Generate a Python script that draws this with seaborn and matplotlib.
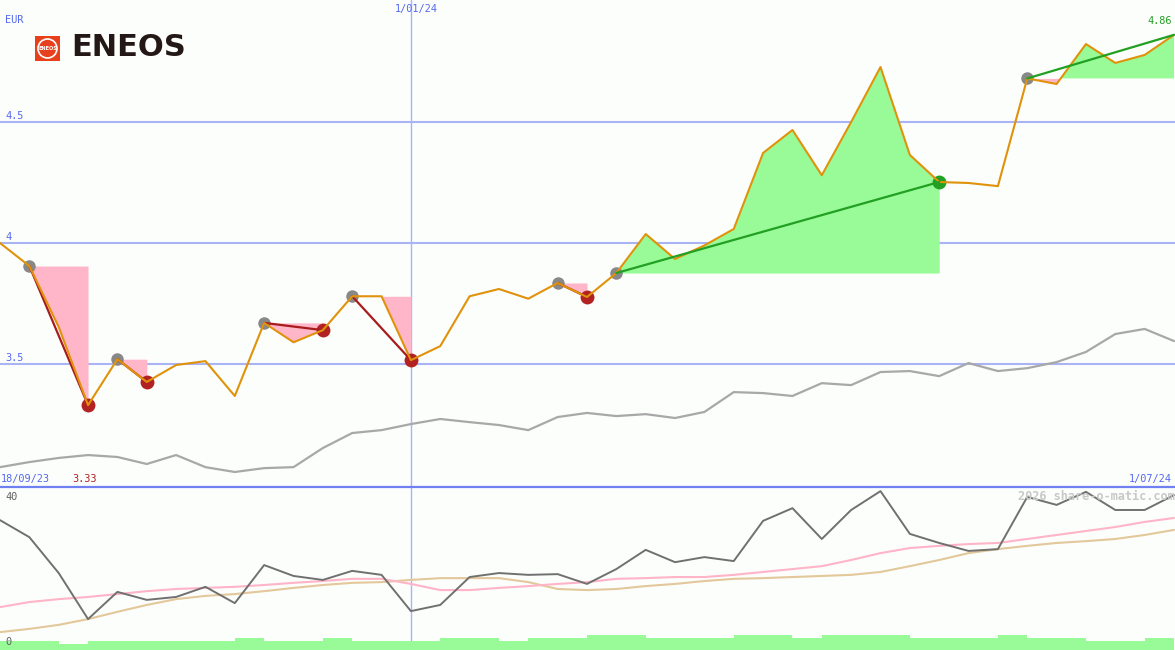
import numpy as np
import seaborn as sns
import matplotlib.pyplot as plt
from matplotlib.patches import Rectangle

# weekly closes, EUR
price = [4.00, 3.905, 3.653, 3.33, 3.52, 3.426, 3.496, 3.512, 3.368, 3.67,
         3.59, 3.64, 3.78, 3.78, 3.516, 3.574, 3.78, 3.81, 3.77, 3.835,
         3.777, 3.876, 4.037, 3.934, 3.99, 4.058, 4.372, 4.467, 4.28, 4.50,
         4.727, 4.364, 4.252, 4.248, 4.235, 4.68, 4.657, 4.822, 4.744, 4.777, 4.86]
# comparison line (grey)
ref_line = [3.074, 3.095, 3.112, 3.124, 3.116, 3.087, 3.124, 3.074, 3.054, 3.070,
            3.074, 3.153, 3.215, 3.227, 3.252, 3.273, 3.260, 3.248, 3.227, 3.281,
            3.298, 3.285, 3.293, 3.277, 3.302, 3.384, 3.380, 3.368, 3.421, 3.413,
            3.467, 3.471, 3.450, 3.504, 3.471, 3.483, 3.508, 3.550, 3.624, 3.645, 3.595]
# lower panel indicator and its two averages
osc = [35.0, 30.3, 20.4, 7.7, 15.2, 13.0, 13.8, 16.6, 12.1, 22.6,
       19.6, 18.5, 21.0, 19.9, 9.9, 11.6, 19.3, 20.4, 19.9, 20.1,
       17.4, 21.5, 26.8, 23.4, 24.8, 23.7, 34.8, 38.3, 29.8, 37.8,
       43.0, 31.2, 28.7, 26.5, 27.0, 41.4, 39.2, 42.8, 37.8, 37.8, 41.9]
osc_fast = [11.0, 12.4, 13.2, 13.8, 14.6, 15.4, 16.0, 16.3, 16.6, 17.1,
            17.7, 18.2, 18.8, 18.8, 17.4, 15.7, 15.7, 16.3, 16.8, 17.4,
            17.9, 18.8, 19.0, 19.3, 19.3, 19.9, 20.7, 21.5, 22.3, 24.0,
            25.9, 27.3, 27.9, 28.4, 28.7, 29.8, 30.9, 32.0, 33.1, 34.5, 35.6]
osc_slow = [4.1, 5.0, 6.1, 7.7, 9.7, 11.6, 13.2, 14.1, 14.6, 15.4,
            16.3, 17.1, 17.7, 17.9, 18.5, 19.0, 19.0, 19.0, 17.9, 16.0,
            15.7, 16.0, 16.8, 17.4, 18.2, 18.8, 19.0, 19.3, 19.6, 19.9,
            20.7, 22.3, 24.0, 25.9, 27.0, 27.9, 28.7, 29.2, 29.8, 30.9, 32.3]
volume = [3, 3, 2, 3, 3, 3, 3, 3, 4, 3,
          3, 4, 3, 3, 3, 4, 4, 3, 4, 4,
          5, 5, 4, 4, 4, 5, 5, 4, 5, 5,
          5, 4, 4, 4, 5, 4, 4, 3, 3, 4]
# signals: start week -> end week
sig_start = [1, 4, 9, 12, 19, 21, 35]
sig_end = [3, 5, 11, 14, 20, 32, 40]

date_first, date_mid, date_last = "18/09/23", "1/01/24", "1/07/24"
mid_week = 14

weeks = np.arange(len(price))
price = np.array(price)

BG = "#fcfefc"
GRID = "#a8b4f4"
BLUE = "#5468f0"
ORANGE = "#e0920a"
PINK = "#ffb6c8"
LGREEN = "#98fb98"
DGREEN = "#22a022"
DRED = "#a81c1c"

sns.set_style("white")
plt.rcParams['font.family'] = ['DejaVu Sans Mono', 'DejaVu Sans']

W, H = 1175, 650
fig = plt.figure(figsize=(W / 100, H / 100), dpi=100, facecolor=BG)
ax = fig.add_axes([0, 163 / H, 1, 487 / H])
axb = fig.add_axes([0, 0, 1, 163 / H])
axv = axb.twinx()
for a in (ax, axb, axv):
    a.set_axis_off()
    a.set_xlim(0, 40.034)
ax.set_ylim(2.992, 5.004)
axb.set_ylim(-0.83, 44.14)
axv.set_ylim(0, 54.3)


def px(x, y):
    return x / W, 1 - y / H


# grid
for g in (3.5, 4.0, 4.5):
    ax.axhline(g, color=GRID, lw=1.5, zorder=0)
ax.axvline(mid_week, color=GRID, lw=1.0, zorder=0)
axb.axvline(mid_week, color=GRID, lw=1.0, zorder=0)

# signal fills and trend lines
for s, e in zip(sig_start, sig_end):
    xs = weeks[s:e + 1]
    ys = price[s:e + 1]
    base = price[s]
    ax.fill_between(xs, ys, base, where=ys <= base, interpolate=True,
                    color=PINK, lw=0, zorder=1)
    ax.fill_between(xs, ys, base, where=ys >= base, interpolate=True,
                    color=LGREEN, lw=0, zorder=1)

sns.lineplot(x=weeks, y=ref_line, ax=ax, color="#a8a8a8", lw=1.6, zorder=2)

for s, e in zip(sig_start, sig_end):
    win = price[e] > price[s]
    ax.plot([s, e], [price[s], price[e]], color=DGREEN if win else DRED,
            lw=1.6, zorder=5 if win else 3.5)
    ax.plot(s, price[s], "o", color="#888888", ms=9, mec="none", zorder=3)
    if e < len(price) - 1:
        ax.plot(e, price[e], "o", color=DGREEN if win else "#b22222",
                ms=10, mec="none", zorder=3)

sns.lineplot(x=weeks, y=price, ax=ax, color=ORANGE, lw=1.5, zorder=4)

# lower panel
axv.bar(weeks[:-1], volume, width=1.0, align="edge", color=LGREEN, lw=0, zorder=1)
sns.lineplot(x=weeks, y=osc_slow, ax=axb, color="#e2c89a", lw=1.5, zorder=2)
sns.lineplot(x=weeks, y=osc_fast, ax=axb, color="#ffb4c8", lw=1.5, zorder=2)
sns.lineplot(x=weeks, y=osc, ax=axb, color="#707070", lw=1.4, zorder=3)

# panel separator
fig.add_artist(plt.Line2D([0, 1], [1 - 486.5 / H] * 2, transform=fig.transFigure,
                          color="#7080f0", lw=1.6))

# texts
fs = 7.4
fig.text(*px(5, 20), "EUR", color=BLUE, fontsize=fs, va="center")
for g, yy in (("4.5", 116), ("4", 237), ("3.5", 358)):
    fig.text(*px(5, yy), g, color=BLUE, fontsize=fs, va="center")
fig.text(*px(416, 9), date_mid, color=BLUE, fontsize=fs, va="center", ha="center")
fig.text(*px(1, 479), date_first, color=BLUE, fontsize=fs, va="center")
fig.text(*px(72, 479), f"{price.min():.2f}", color="#b22222", fontsize=fs, va="center")
fig.text(*px(1172, 479), date_last, color=BLUE, fontsize=fs, va="center", ha="right")
fig.text(*px(1172, 21), f"{price[-1]:.2f}", color=DGREEN, fontsize=fs, va="center", ha="right")
fig.text(*px(5, 497), "40", color="#606060", fontsize=fs, va="center")
fig.text(*px(5, 642), "0", color="#606060", fontsize=fs, va="center")
fig.text(*px(1175, 496), "2026 share-o-matic.com", color="#c8c8c8",
         fontsize=8.6, va="center", ha="right", fontweight="bold")

# logo
fig.add_artist(Rectangle(px(35, 61), 25 / W, 25 / H, transform=fig.transFigure,
                         color="#e8401c", lw=0))
cx, cy = px(47.5, 48.5)
ring = plt.Circle((47.5, H - 48.5), 9.5, transform=None, fill=False,
                  ec="white", lw=1.2)
fig.add_artist(ring)
fig.text(cx, cy, "ENEOS", color="white", fontsize=3.6, ha="center", va="center",
         family="DejaVu Sans", fontweight="bold")
fig.text(*px(71, 47), "ENEOS", color="#231816", fontsize=22, va="center",
         family="DejaVu Sans", fontweight="bold")

fig.savefig("out.png", dpi=100, facecolor=BG)
